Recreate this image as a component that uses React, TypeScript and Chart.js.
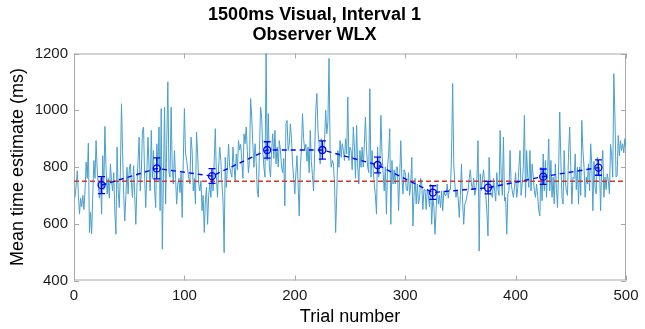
import React, { useEffect, useRef } from "react";
import { Chart, registerables } from "chart.js";

Chart.register(...registerables);

const titleLines = ["1500ms Visual, Interval 1", "Observer WLX"];
const xLabel = "Trial number";
const yLabel = "Mean time estimate (ms)";
const xTicks = [0, 100, 200, 300, 400, 500];
const yTicks = [400, 600, 800, 1000, 1200];

const trials001to050 = [693, 740, 787, 700, 634, 690, 660, 700, 650, 720, 817, 760, 884, 569, 640, 565, 700, 823, 760, 893, 790, 740, 690, 760, 634, 840, 720, 943, 800, 705, 760, 690, 811, 750, 716, 780, 640, 563, 870, 720, 657, 780, 1023, 858, 700, 610, 700, 799, 705, 790];
const trials051to100 = [811, 740, 693, 805, 700, 598, 728, 820, 905, 716, 780, 929, 941, 760, 657, 780, 905, 800, 716, 929, 760, 858, 720, 657, 882, 800, 941, 646, 1006, 510, 760, 1011, 669, 880, 1100, 780, 764, 1011, 790, 740, 858, 760, 669, 740, 760, 710, 780, 622, 820, 1006];
const trials101to150 = [850, 823, 790, 760, 740, 905, 858, 716, 760, 669, 923, 846, 740, 716, 752, 646, 700, 569, 680, 728, 598, 700, 740, 693, 780, 716, 820, 935, 764, 693, 800, 870, 823, 740, 680, 498, 834, 728, 800, 881, 799, 780, 764, 870, 800, 752, 846, 790, 893, 860];
const trials151to200 = [880, 823, 760, 917, 882, 941, 858, 780, 823, 1041, 976, 880, 799, 882, 823, 716, 693, 858, 1011, 976, 858, 800, 764, 1206, 823, 988, 800, 764, 858, 917, 830, 929, 811, 870, 800, 893, 858, 800, 780, 830, 663, 952, 964, 858, 880, 952, 900, 811, 760, 705];
const trials201to250 = [780, 840, 740, 628, 800, 858, 988, 900, 858, 880, 820, 870, 780, 929, 820, 770, 716, 850, 1000, 1059, 929, 880, 811, 900, 858, 846, 900, 1000, 917, 960, 1183, 858, 799, 823, 811, 740, 569, 700, 858, 799, 893, 834, 882, 858, 823, 900, 846, 1047, 823, 870];
const trials251to300 = [858, 790, 941, 870, 760, 947, 800, 740, 858, 799, 870, 800, 880, 976, 858, 800, 780, 1076, 764, 858, 790, 740, 700, 634, 870, 764, 811, 982, 846, 780, 716, 800, 634, 800, 846, 935, 598, 823, 740, 790, 740, 800, 799, 646, 764, 893, 764, 705, 790, 780];
const trials301to350 = [720, 716, 780, 700, 740, 834, 592, 700, 760, 670, 740, 670, 690, 760, 740, 650, 720, 720, 650, 720, 700, 660, 740, 598, 690, 660, 563, 646, 740, 669, 700, 657, 716, 646, 716, 700, 700, 740, 690, 720, 720, 846, 1094, 811, 740, 693, 720, 690, 622, 700];
const trials351to400 = [811, 680, 598, 669, 680, 700, 716, 760, 790, 740, 720, 760, 700, 720, 760, 893, 504, 776, 716, 760, 790, 740, 700, 640, 557, 834, 730, 700, 693, 760, 716, 680, 780, 720, 700, 929, 764, 700, 905, 680, 693, 563, 705, 716, 858, 740, 716, 693, 730, 780];
const trials401to450 = [693, 728, 799, 858, 700, 740, 800, 982, 693, 858, 764, 728, 858, 716, 811, 764, 716, 693, 740, 700, 646, 628, 799, 681, 846, 716, 823, 693, 780, 899, 716, 823, 693, 764, 670, 811, 720, 657, 800, 994, 823, 693, 669, 858, 750, 716, 700, 850, 941, 799];
const trials451to500 = [669, 764, 760, 846, 720, 799, 669, 800, 700, 964, 858, 800, 693, 764, 740, 811, 716, 882, 811, 646, 820, 728, 705, 834, 788, 800, 646, 799, 858, 693, 764, 720, 776, 752, 705, 880, 840, 764, 1129, 976, 764, 770, 911, 840, 893, 858, 882, 850, 900, 870];

const trialValues = [
  ...trials001to050, ...trials051to100, ...trials101to150, ...trials151to200, ...trials201to250,
  ...trials251to300, ...trials301to350, ...trials351to400, ...trials401to450, ...trials451to500,
];

const binCenters = [25, 75, 125, 175, 225, 275, 325, 375, 425, 475];
const binMeans = [736, 795, 768, 860, 860, 807, 710, 727, 766, 798];
const binErrors = [30, 37, 26, 29, 32, 28, 24, 22, 27, 27];
const referenceLevel = 750;
const referenceRange = [0, 500];

const FONT = "'Liberation Sans', Arial, Helvetica, sans-serif";
const BLUE = "#0000ff";

const frameTicks = {
  id: "frameTicks",
  beforeDatasetsDraw(chart: any) {
    const { ctx, chartArea: a, scales } = chart;
    ctx.save();
    ctx.strokeStyle = "#a8a8a8";
    ctx.lineWidth = 1;
    ctx.strokeRect(a.left + 0.5, a.top + 0.5, a.right - a.left - 1, a.bottom - a.top - 1);
    const len = 5;
    ctx.beginPath();
    xTicks.forEach((v) => {
      const px = Math.round(scales.x.getPixelForValue(v)) + 0.5;
      ctx.moveTo(px, a.bottom);
      ctx.lineTo(px, a.bottom - len);
      ctx.moveTo(px, a.top);
      ctx.lineTo(px, a.top + len);
    });
    yTicks.forEach((v) => {
      const py = Math.round(scales.y.getPixelForValue(v)) + 0.5;
      ctx.moveTo(a.left, py);
      ctx.lineTo(a.left + len, py);
      ctx.moveTo(a.right, py);
      ctx.lineTo(a.right - len, py);
    });
    ctx.stroke();
    ctx.restore();
  },
};

const errorBars = {
  id: "errorBars",
  afterDatasetsDraw(chart: any) {
    const { ctx, scales } = chart;
    ctx.save();
    ctx.strokeStyle = BLUE;
    ctx.lineWidth = 1.3;
    const cap = 3.5;
    binCenters.forEach((c, i) => {
      const px = scales.x.getPixelForValue(c);
      const yt = scales.y.getPixelForValue(binMeans[i] + binErrors[i]);
      const yb = scales.y.getPixelForValue(binMeans[i] - binErrors[i]);
      ctx.beginPath();
      ctx.moveTo(px, yt);
      ctx.lineTo(px, yb);
      ctx.moveTo(px - cap, yt);
      ctx.lineTo(px + cap, yt);
      ctx.moveTo(px - cap, yb);
      ctx.lineTo(px + cap, yb);
      ctx.stroke();
    });
    ctx.restore();
  },
};

export default function App() {
  const ref = useRef<HTMLCanvasElement | null>(null);

  useEffect(() => {
    document.body.style.margin = "0";
    if (!ref.current) return;
    const chart = new Chart(ref.current, {
      type: "line",
      data: {
        datasets: [
          {
            label: "bin means",
            data: binCenters.map((x, i) => ({ x, y: binMeans[i] })),
            borderColor: BLUE,
            borderWidth: 1.4,
            borderDash: [5, 4],
            pointRadius: 3.5,
            pointBorderWidth: 1.3,
            pointBorderColor: BLUE,
            pointBackgroundColor: "rgba(0,0,0,0)",
            fill: false,
            order: 0,
          },
          {
            label: "reference",
            data: referenceRange.map((x) => ({ x, y: referenceLevel })),
            borderColor: "#cc3a2e",
            borderWidth: 1.5,
            borderDash: [5, 3],
            pointRadius: 0,
            fill: false,
            order: 1,
          },
          {
            label: "trials",
            data: trialValues.map((y, i) => ({ x: i + 1, y })),
            borderColor: "#4a9fcd",
            borderWidth: 1,
            pointRadius: 0,
            fill: false,
            tension: 0,
            order: 2,
          },
        ],
      },
      options: {
        animation: false,
        responsive: false,
        devicePixelRatio: 1,
        layout: { padding: { left: 0, right: 16, top: 0, bottom: 0 } },
        plugins: {
          legend: { display: false },
          tooltip: { enabled: false },
          title: {
            display: true,
            text: titleLines,
            color: "#000",
            font: { family: FONT, size: 18, weight: "bold", lineHeight: 1.1 },
            padding: { top: 5, bottom: 8.9 },
          },
        },
        scales: {
          x: {
            type: "linear",
            min: 0,
            max: 500,
            afterFit: (s: any) => { s.height = 48.5; },
            afterBuildTicks: (s: any) => { s.ticks = xTicks.map((v) => ({ value: v })); },
            ticks: {
              font: { family: FONT, size: 15 },
              color: "#1a1a1a",
              padding: 6.5,
              maxRotation: 0,
              callback: (v: any) => String(v),
            },
            grid: { display: false, drawTicks: false },
            border: { display: false },
            title: {
              display: true,
              text: xLabel,
              color: "#000",
              font: { family: FONT, size: 18 },
              padding: { top: 0, bottom: 1 },
            },
          },
          y: {
            type: "linear",
            min: 400,
            max: 1200,
            afterFit: (s: any) => { s.width = 74; },
            afterBuildTicks: (s: any) => { s.ticks = yTicks.map((v) => ({ value: v })); },
            ticks: {
              font: { family: FONT, size: 15 },
              color: "#1a1a1a",
              padding: 6,
              callback: (v: any) => String(v),
            },
            grid: { display: false, drawTicks: false },
            border: { display: false },
            title: {
              display: true,
              text: yLabel,
              color: "#000",
              font: { family: FONT, size: 18 },
              padding: { top: 7, bottom: 0 },
            },
          },
        },
      },
      plugins: [frameTicks, errorBars],
    });
    return () => chart.destroy();
  }, []);

  return (
    <div style={{ width: 645, height: 329 }}>
      <canvas ref={ref} width={645} height={329} style={{ display: "block" }} />
    </div>
  );
}
